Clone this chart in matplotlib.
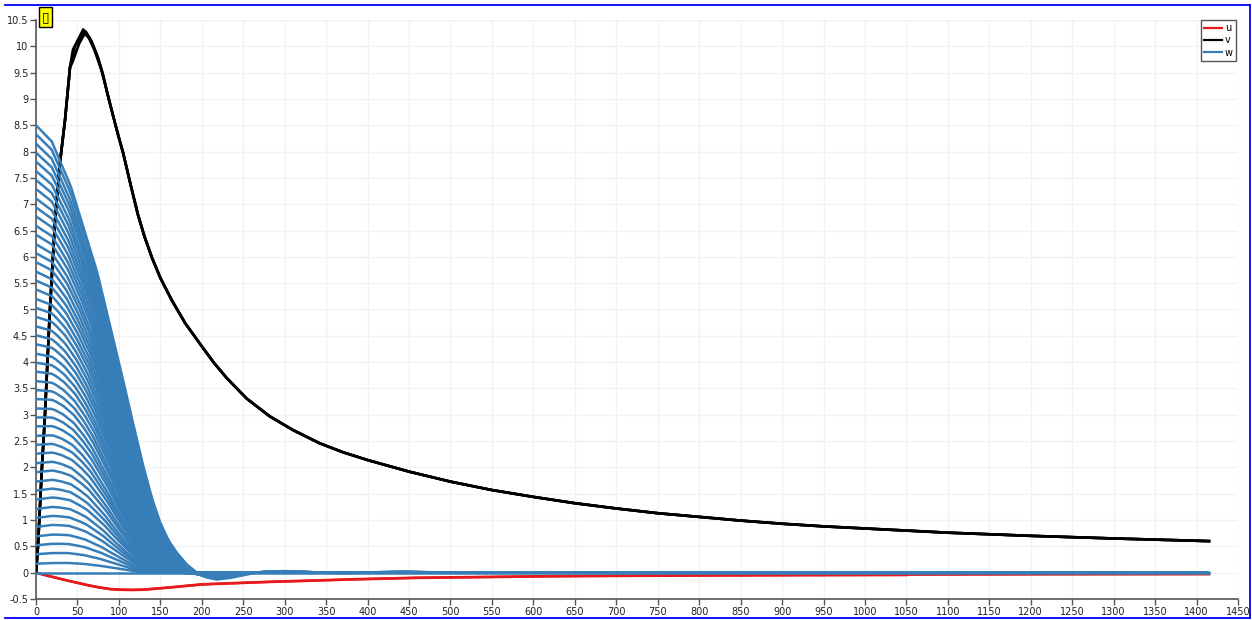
import numpy as np
import matplotlib
matplotlib.use("Agg")
import matplotlib.pyplot as plt
from matplotlib.lines import Line2D

# u: horizontal component, two overlapping blocks
u_x = [0, 12, 25, 38, 50, 64, 77, 90, 100, 115, 130, 145, 160, 180, 200, 225, 250, 285,
       318, 350, 379, 420, 459, 540, 620, 700, 800, 920, 1050, 1200, 1415]
u_y = [0, -0.05, -0.10, -0.15, -0.19, -0.24, -0.28, -0.31, -0.32, -0.325, -0.32, -0.30,
       -0.28, -0.25, -0.22, -0.205, -0.19, -0.17, -0.155, -0.14, -0.125, -0.11, -0.095,
       -0.08, -0.065, -0.058, -0.05, -0.043, -0.038, -0.034, -0.03]
u2_x = [0, 12, 25, 38, 50, 64, 77, 90, 100, 115, 130, 145, 160, 180, 200, 225, 250, 285,
        318, 350, 379, 420, 459, 540, 620, 700, 800, 920, 1050]
u2_y = [0, -0.05, -0.10, -0.15, -0.195, -0.245, -0.285, -0.315, -0.325, -0.33, -0.325,
        -0.305, -0.285, -0.255, -0.225, -0.21, -0.195, -0.175, -0.16, -0.145, -0.13,
        -0.115, -0.10, -0.085, -0.07, -0.062, -0.055, -0.05, -0.045]

# v: rise, three slightly different peaks, shared decay
v_rise_x = [0, 2.4, 7, 10.5, 16.6, 23, 29, 35, 41]
v_rise_y = [0, 0.5, 1.96, 2.9, 4.94, 6.7, 7.8, 8.6, 9.6]
v_peak_x = [[44.6, 57, 65, 73, 80], [44, 52, 60, 67, 75, 81], [47, 58, 64, 70, 79]]
v_peak_y = [[9.94, 10.32, 10.15, 9.85, 9.5], [9.7, 10.05, 10.28, 10.1, 9.78, 9.45],
            [10.0, 10.26, 10.15, 9.95, 9.55]]
v_tail_x = [87, 93, 99, 105, 114, 123, 131, 140, 150, 164, 180, 200, 215, 230, 254, 282,
            310, 342, 370, 400, 450, 500, 550, 600, 650, 700, 750, 800, 850, 900, 950,
            1000, 1100, 1200, 1300, 1415]
v_tail_y = [9.05, 8.68, 8.32, 7.98, 7.38, 6.8, 6.38, 5.98, 5.6, 5.17, 4.74, 4.3, 3.98, 3.7,
            3.31, 2.97, 2.71, 2.46, 2.29, 2.14, 1.92, 1.73, 1.57, 1.44, 1.32, 1.22, 1.13,
            1.06, 0.99, 0.93, 0.88, 0.84, 0.76, 0.70, 0.65, 0.60]

# w: one profile per block, start value at x=0 and x where it reaches zero
w_start = [0.00, 0.17, 0.35, 0.52, 0.69, 0.87, 1.04, 1.21, 1.39, 1.56, 1.73, 1.91, 2.08,
           2.26, 2.43, 2.60, 2.78, 2.95, 3.12, 3.30, 3.47, 3.64, 3.82, 3.99, 4.16, 4.34,
           4.51, 4.68, 4.86, 5.03, 5.20, 5.38, 5.55, 5.72, 5.90, 6.07, 6.24, 6.42, 6.59,
           6.77, 6.94, 7.11, 7.29, 7.46, 7.63, 7.81, 7.98, 8.15, 8.33, 8.50]
w_zero_x = [1415, 128, 129, 131, 132, 134, 135, 136, 138, 139, 140, 142, 143, 145, 146, 147,
            149, 150, 151, 153, 154, 156, 157, 158, 160, 161, 162, 164, 165, 167, 168,
            169, 171, 172, 173, 175, 176, 178, 179, 180, 182, 183, 184, 186, 187, 189,
            190, 191, 193, 194]
# profile shapes (fraction of zero point, fraction of start value)
shape_low_t = [0, 0.15, 0.30, 0.45, 0.60, 0.75, 0.90, 1.0]
shape_low_s = [1.0, 1.10, 1.14, 1.05, 0.85, 0.57, 0.26, 0.05]
shape_high_t = [0, 0.093, 0.216, 0.381, 0.541, 0.603, 0.665, 0.722, 0.773, 0.825, 0.876, 0.938, 1.0]
shape_high_s = [1.0, 0.968, 0.864, 0.671, 0.431, 0.335, 0.241, 0.165, 0.111, 0.071, 0.044, 0.018, 0.0]
# ripple after the zero crossing
tail_dx = [0, 12, 24, 40, 71, 90, 106, 130, 151, 186, 220, 251, 280, 306, 1221]
tail_dy = [0, -0.09, -0.13, -0.10, 0, 0.025, 0.03, 0.02, 0, -0.005, 0.01, 0.02, 0.01, 0, 0]

RED = "#e41a1c"
BLACK = "#000000"
BLUE = "#377eb8"

W, H = 1252, 620
fig = plt.figure(figsize=(W / 100, H / 100), dpi=100)
ax = fig.add_axes([36 / W, 21 / H, (1238 - 36) / W, (599 - 20) / H])

ax.plot(u_x, u_y, color=RED, lw=1.8, zorder=2, solid_joinstyle="round")
ax.plot(u2_x, u2_y, color=RED, lw=1.8, zorder=2, solid_joinstyle="round")

for px, py in zip(v_peak_x, v_peak_y):
    ax.plot(v_rise_x + px + v_tail_x, v_rise_y + py + v_tail_y,
            color=BLACK, lw=1.9, zorder=3, solid_joinstyle="round")

n = len(w_start) - 1
for k, (w0, L) in enumerate(zip(w_start, w_zero_x)):
    if k == 0:
        ax.plot([0, L], [0, 0], color=BLUE, lw=1.8, zorder=4)
        continue
    # lower blocks keep a flat hump, upper ones fall straight away
    a = (k / n) ** 0.5
    x = np.concatenate([[0], np.linspace(19, L, 60)])
    t = x / L
    s = (1 - a) * np.interp(t, shape_low_t, shape_low_s) + a * np.interp(t, shape_high_t, shape_high_s)
    xt = L + np.array(tail_dx[1:], dtype=float)
    yt = np.array(tail_dy[1:]) * (k / n) ** 6
    ax.plot(np.concatenate([x, xt]), np.concatenate([w0 * s, yt]),
            color=BLUE, lw=1.8, zorder=4, solid_joinstyle="round")

ax.set_xlim(0, 1450)
ax.set_ylim(-0.5, 10.5)
ax.set_xticks(np.arange(0, 1451, 50))
ax.set_yticks(np.arange(-0.5, 10.51, 0.5))
ax.set_xticklabels([f"{v:g}" for v in np.arange(0, 1451, 50)])
ax.set_yticklabels([f"{v:g}" for v in np.arange(-0.5, 10.51, 0.5)])
ax.grid(True, color="#f2f2f2", lw=1.0)
ax.set_axisbelow(True)
for side in ("top", "right"):
    ax.spines[side].set_visible(False)
for side in ("left", "bottom"):
    ax.spines[side].set_color("#555555")
    ax.spines[side].set_linewidth(1.2)
ax.tick_params(direction="out", length=4, width=1, color="#555555",
               labelsize=7, labelcolor="#222222", pad=1.5)

handles = [Line2D([], [], color=c, lw=1.6) for c in (RED, BLACK, BLUE)]
leg = ax.legend(handles, ["u", "v", "w"], loc="upper right",
                bbox_to_anchor=(1236 / W, 1 - 20 / H), bbox_transform=fig.transFigure,
                fontsize=7, frameon=True, fancybox=False, framealpha=1,
                edgecolor="#555555", handlelength=1.8, handletextpad=0.35,
                borderpad=0.3, labelspacing=0.25, borderaxespad=0)
leg.get_frame().set_linewidth(1.0)

# title placeholder box
fig.text(45.5 / W, 1 - 17 / H, "\u25af", ha="center", va="center", fontsize=10,
         bbox=dict(boxstyle="square,pad=0.2", facecolor="#ffff00", edgecolor="black", lw=1))

# view border
for xs, ys in (([5 / W, 1250 / W], [1 - 4.5 / H] * 2),
               ([5 / W, 1250 / W], [1 - 617.5 / H] * 2),
               ([1250 / W] * 2, [1 - 4.5 / H, 1 - 617.5 / H])):
    fig.add_artist(Line2D(xs, ys, transform=fig.transFigure, color="#0000ff", lw=1.3))

fig.savefig("out.png", dpi=100)
